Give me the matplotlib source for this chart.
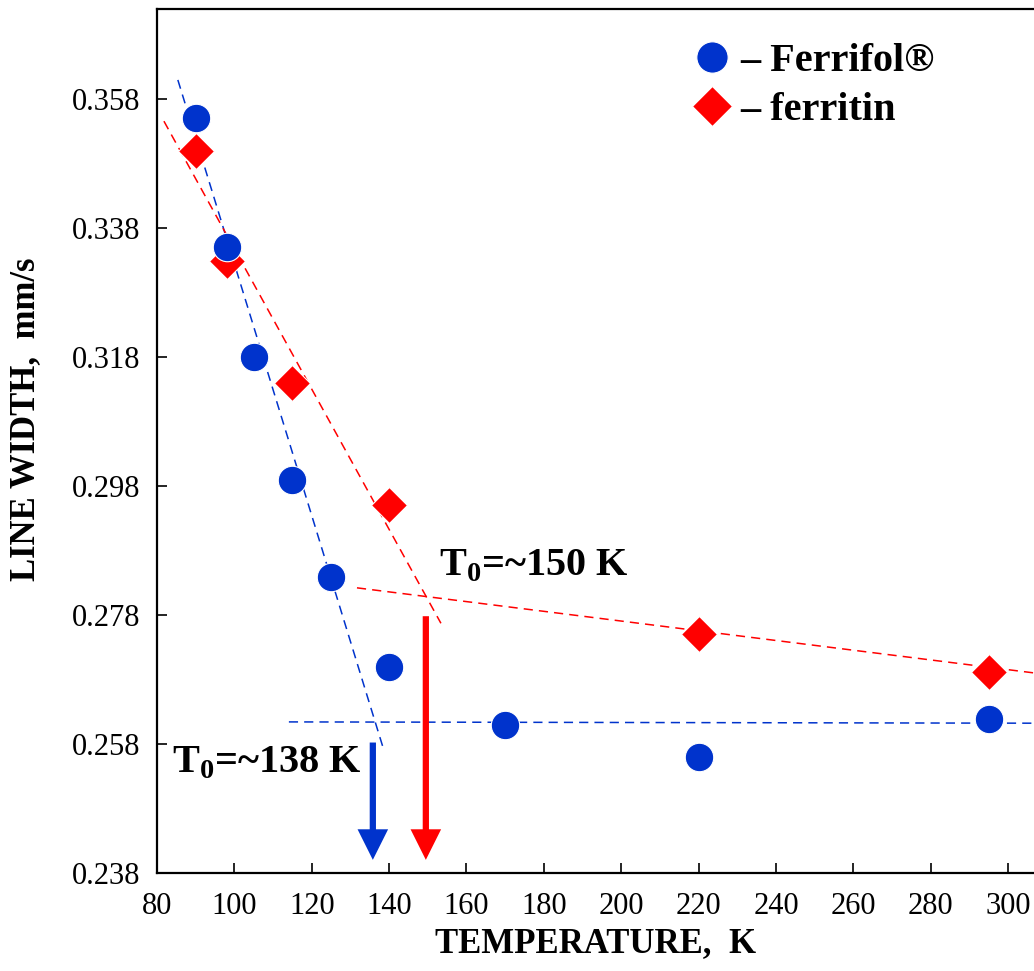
import matplotlib.pyplot as plt
import numpy as np

plt.rcParams['font.family'] = ['Liberation Serif', 'DejaVu Serif']
plt.rcParams['mathtext.fontset'] = 'custom'
plt.rcParams['mathtext.rm'] = 'Liberation Serif'
plt.rcParams['mathtext.bf'] = 'Liberation Serif:bold'

BLUE = '#0033cc'
RED = '#ff0000'

# data
ferrifol_t = [90, 98, 105, 115, 125, 140, 170, 220, 295]
ferrifol_w = [0.3551, 0.3351, 0.3180, 0.2989, 0.2839, 0.2699, 0.2609, 0.2560, 0.2618]
ferrifol_err = [0.0013, 0.0010, 0.0008, 0.0008, 0.0008, 0.0008, 0.0010, 0.0008, 0.0013]

ferritin_t = [90, 98, 115, 140, 220, 295]
ferritin_w = [0.3500, 0.3329, 0.3140, 0.2951, 0.2750, 0.2691]

# fitted dashed lines (end points)
fit_blue_steep = ([85.4, 138.4], [0.3610, 0.2575])
fit_blue_flat = ([114.1, 306.7], [0.2614, 0.2612])
fit_red_steep = ([81.8, 153.4], [0.3546, 0.2767])
fit_red_flat = ([131.7, 306.7], [0.2822, 0.2690])

x_ticks = np.arange(80, 301, 20)
y_ticks = [0.238, 0.258, 0.278, 0.298, 0.318, 0.338, 0.358]

fig = plt.figure(figsize=(10.34, 9.71), dpi=100)
ax = fig.add_axes([0.1518, 0.1012, 0.8482, 0.8895])

ax.plot(*fit_blue_steep, '--', color=BLUE, lw=1.1, dashes=(6, 4))
ax.plot(*fit_blue_flat, '--', color=BLUE, lw=1.1, dashes=(6, 4))
ax.plot(*fit_red_steep, '--', color=RED, lw=1.1, dashes=(6, 4))
ax.plot(*fit_red_flat, '--', color=RED, lw=1.1, dashes=(6, 4))

ax.errorbar(ferrifol_t, ferrifol_w, yerr=ferrifol_err, fmt='none',
            ecolor='black', elinewidth=1, capsize=0, zorder=3)
ax.plot(ferritin_t, ferritin_w, 'D', color=RED, ms=18.5, mec='white', mew=0.8,
        zorder=4, label='– ferritin')
ax.plot(ferrifol_t, ferrifol_w, 'o', color=BLUE, ms=20.5, mec='white', mew=0.8,
        zorder=5, label='– Ferrifol®')

# T0 arrows
arrow_style = 'simple,head_length=2.2,head_width=2.2,tail_width=0.45'
ax.annotate('', xy=(135.8, 0.2400), xytext=(135.8, 0.2582),
            arrowprops=dict(arrowstyle=arrow_style, lw=0, color=BLUE,
                            shrinkA=0, shrinkB=0, mutation_scale=10))
ax.annotate('', xy=(149.5, 0.2400), xytext=(149.5, 0.2778),
            arrowprops=dict(arrowstyle=arrow_style, lw=0, color=RED,
                            shrinkA=0, shrinkB=0, mutation_scale=10))

ax.text(84.0, 0.2551, r'T$_\mathbf{0}$=~138 K', fontsize=29, fontweight='bold',
        va='center', ha='left')
ax.text(153.0, 0.2856, r'T$_\mathbf{0}$=~150 K', fontsize=29, fontweight='bold',
        va='center', ha='left')

h, l = ax.get_legend_handles_labels()
leg = ax.legend(h[::-1], l[::-1], loc='upper left', bbox_to_anchor=(0.582, 0.994),
                frameon=False, prop={'size': 29, 'weight': 'bold'},
                handlelength=0.8, handletextpad=0.3, labelspacing=0.3,
                borderaxespad=0.3, markerscale=1.1)

ax.set_xlim(80, 306.7)
ax.set_ylim(0.238, 0.372)
ax.set_xticks(x_ticks)
ax.set_yticks(y_ticks)
ax.set_yticklabels(['%.3f' % v for v in y_ticks])
ax.tick_params(direction='in', length=7, width=1.2, labelsize=22, pad=14)
ax.tick_params(axis='y', pad=12)
for s in ['left', 'bottom', 'top']:
    ax.spines[s].set_linewidth(1.6)
ax.spines['right'].set_visible(False)

ax.set_xlabel('TEMPERATURE,  K', fontsize=25, fontweight='bold', labelpad=4)
ax.set_ylabel('LINE WIDTH,  mm/s', fontsize=25, fontweight='bold')
ax.yaxis.set_label_coords(-0.131, 0.525)

fig.savefig('out.png', dpi=100)
